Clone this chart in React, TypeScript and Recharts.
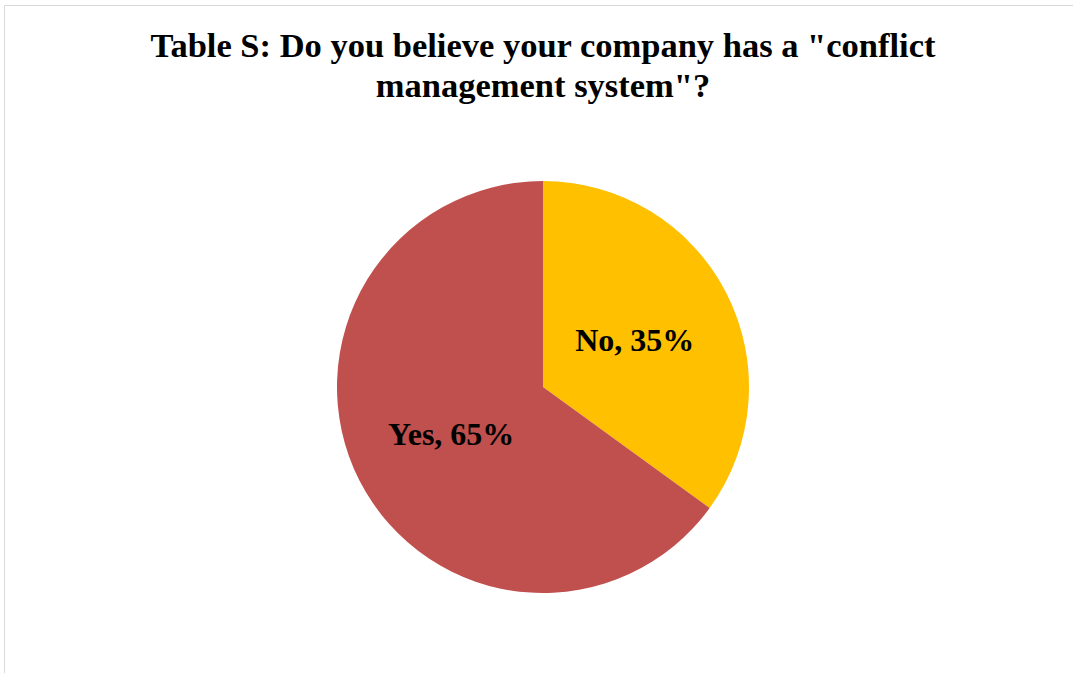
import React from "react";
import { PieChart, Pie, Cell } from "recharts";

const categories = ["No", "Yes"];
const values = [35, 65];
const colors = ["#FFC000", "#C0504D"];
const titleLines = ['Table S: Do you believe your company has a "conflict', 'management system"?'];

const data = categories.map((name, i) => ({ name, value: values[i] }));

const RAD = Math.PI / 180;

const renderLabel = (props: any) => {
  const { cx, cy, midAngle, outerRadius, index } = props;
  const r = outerRadius * 0.5;
  const x = cx + r * Math.cos(-midAngle * RAD);
  const y = cy + r * Math.sin(-midAngle * RAD);
  return (
    <text
      x={x}
      y={y}
      textAnchor="middle"
      dominantBaseline="central"
      fill="#000"
      style={{ fontFamily: "'Liberation Serif', 'Times New Roman', serif", fontWeight: 700, fontSize: 32 }}
    >
      {`${categories[index]}, ${values[index]}%`}
    </text>
  );
};

export default function App() {
  return (
    <div
      style={{
        position: "fixed",
        left: 4,
        top: 5,
        width: 1069,
        height: 668,
        borderTop: "1px solid #d9d9d9",
        borderLeft: "1px solid #d9d9d9",
        background: "#fff",
        overflow: "hidden",
      }}
    >
      <div
        style={{
          position: "absolute",
          left: 538 - 1000,
          width: 2000,
          top: 25.35 - 6,
          textAlign: "center",
          fontFamily: "'Liberation Serif', 'Times New Roman', serif",
          fontWeight: 700,
          fontSize: 34.5,
          lineHeight: "40px",
          color: "#000",
          whiteSpace: "nowrap",
        }}
      >
        {titleLines.map((l, i) => (
          <div key={i}>{l}</div>
        ))}
      </div>
      <div style={{ position: "absolute", left: 0, top: 0 }}>
        <PieChart width={1068} height={667} margin={{ top: 0, right: 0, bottom: 0, left: 0 }}>
          <Pie
            data={data}
            dataKey="value"
            nameKey="name"
            cx={538}
            cy={381}
            outerRadius={206}
            startAngle={90}
            endAngle={-270}
            stroke="none"
            labelLine={false}
            label={renderLabel}
            isAnimationActive={false}
          >
            {data.map((d, i) => (
              <Cell key={d.name} fill={colors[i]} />
            ))}
          </Pie>
        </PieChart>
      </div>
    </div>
  );
}
